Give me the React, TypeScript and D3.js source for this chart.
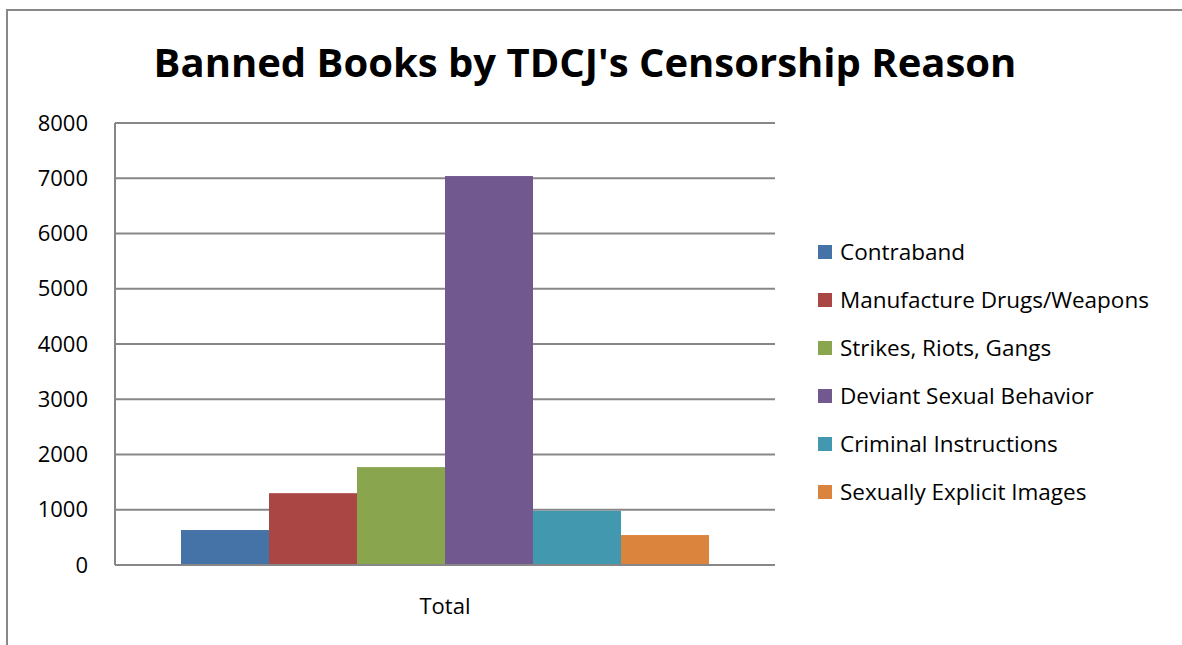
// @ts-nocheck
import React, { useEffect, useRef } from "react";
import * as d3 from "d3";

const categories = ["Total"];
const reasons = [
  "Contraband",
  "Manufacture Drugs/Weapons",
  "Strikes, Riots, Gangs",
  "Deviant Sexual Behavior",
  "Criminal Instructions",
  "Sexually Explicit Images",
];
const totals = [633, 1300, 1772, 7040, 980, 542];
const colors = ["#4572A7", "#AA4643", "#89A54E", "#71588F", "#4198AF", "#DB843D"];
const yTicks = [0, 1000, 2000, 3000, 4000, 5000, 6000, 7000, 8000];

const FONT = "'Open Sans', 'Noto Sans', sans-serif";

export default function App() {
  const svgRef = useRef(null);

  useEffect(() => {
    const width = 1182;
    const height = 645;
    const svg = d3.select(svgRef.current);
    svg.selectAll("*").remove();

    svg.attr("width", width).attr("height", height);

    // chart border (runs off the right and bottom edges)
    svg.append("rect")
      .attr("x", 7)
      .attr("y", 10)
      .attr("width", width + 10)
      .attr("height", height + 10)
      .attr("fill", "#fff")
      .attr("stroke", "#888")
      .attr("stroke-width", 2);

    // title
    svg.append("text")
      .attr("x", 585)
      .attr("y", 77)
      .attr("text-anchor", "middle")
      .attr("font-family", FONT)
      .attr("font-weight", "bold")
      .attr("font-size", 40)
      .attr("fill", "#000")
      .text("Banned Books by TDCJ's Censorship Reason");

    const plot = { left: 115, right: 775, top: 123, bottom: 565 };

    const y = d3.scaleLinear().domain([0, 8000]).range([plot.bottom, plot.top]);
    const x0 = d3.scaleBand().domain(categories).range([plot.left, plot.right]);
    const x1 = d3
      .scaleBand()
      .domain(reasons)
      .range([x0("Total") + 66, x0("Total") + x0.bandwidth() - 66]);

    // gridlines
    svg.append("g")
      .selectAll("line")
      .data(yTicks)
      .join("line")
      .attr("x1", plot.left)
      .attr("x2", plot.right)
      .attr("y1", d => y(d))
      .attr("y2", d => y(d))
      .attr("stroke", "#878787")
      .attr("stroke-width", 2);

    // y axis line
    svg.append("line")
      .attr("x1", plot.left)
      .attr("x2", plot.left)
      .attr("y1", plot.top)
      .attr("y2", plot.bottom)
      .attr("stroke", "#878787")
      .attr("stroke-width", 2);

    // y tick labels
    svg.append("g")
      .selectAll("text")
      .data(yTicks)
      .join("text")
      .attr("x", 88)
      .attr("y", d => y(d))
      .attr("dy", "0.35em")
      .attr("text-anchor", "end")
      .attr("font-family", FONT)
      .attr("font-size", 22)
      .attr("fill", "#000")
      .text(d => d);

    // bars
    svg.append("g")
      .selectAll("rect")
      .data(reasons.map((r, i) => ({ r, v: totals[i], c: colors[i] })))
      .join("rect")
      .attr("x", d => x1(d.r))
      .attr("y", d => y(d.v))
      .attr("width", x1.bandwidth())
      .attr("height", d => y(0) - y(d.v))
      .attr("fill", d => d.c);

    // baseline over bars
    svg.append("line")
      .attr("x1", plot.left)
      .attr("x2", plot.right)
      .attr("y1", y(0))
      .attr("y2", y(0))
      .attr("stroke", "#878787")
      .attr("stroke-width", 2);

    // category label
    svg.append("text")
      .attr("x", x0("Total") + x0.bandwidth() / 2)
      .attr("y", 614)
      .attr("text-anchor", "middle")
      .attr("font-family", FONT)
      .attr("font-size", 22)
      .attr("fill", "#000")
      .text("Total");

    // legend
    const legend = svg.append("g").attr("transform", "translate(818, 252)");
    const rows = legend.selectAll("g")
      .data(reasons)
      .join("g")
      .attr("transform", (d, i) => `translate(0, ${i * 48})`);

    rows.append("rect")
      .attr("x", 0)
      .attr("y", -7)
      .attr("width", 14)
      .attr("height", 14)
      .attr("fill", (d, i) => colors[i]);

    rows.append("text")
      .attr("x", 22)
      .attr("y", 0)
      .attr("dy", "0.35em")
      .attr("font-family", FONT)
      .attr("font-size", 22.5)
      .attr("fill", "#000")
      .text(d => d);
  }, []);

  return (
    <div style={{ position: "absolute", left: 0, top: 0, width: 1182, height: 645, overflow: "hidden", background: "#fff" }}>
      <svg ref={svgRef}></svg>
    </div>
  );
}
